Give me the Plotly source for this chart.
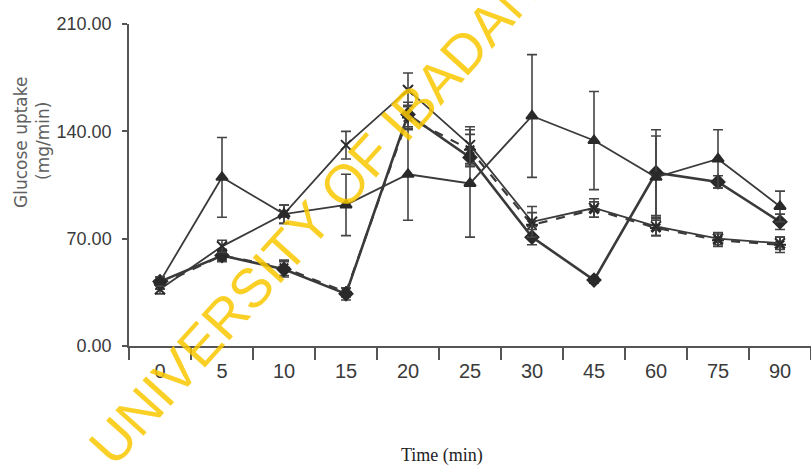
import plotly.graph_objects as go

times = ["0", "5", "10", "15", "20", "25", "30", "45", "60", "75", "90"]

tri_vals = [42, 110, 86, 92, 112, 106, 150, 134, 110, 122, 91]
tri_err = [3, 26, 6, 20, 30, 35, 40, 32, 27, 19, 10]

x_vals = [37, 65, 86, 131, 167, 131, 81, 90, 78, 70, 67]
x_err = [3, 4, 6, 9, 11, 12, 10, 6, 6, 4, 4]

dia_vals = [42, 59, 50, 34, 151, 123, 71, 43, 113, 107, 81]
dia_err = [3, 3, 5, 4, 8, 6, 5, 2, 28, 4, 5]

ast_vals = [40, 59, 51, 35, 149, 128, 79, 89, 77, 69, 66]
ast_err = [3, 4, 5, 3, 8, 10, 8, 5, 5, 4, 5]

series = [
    dict(y=ast_vals, e=ast_err, sym="asterisk-open", dash="dash", w=2.2, size=10),
    dict(y=dia_vals, e=dia_err, sym="diamond", dash="solid", w=2.6, size=10),
    dict(y=x_vals, e=x_err, sym="x-thin-open", dash="solid", w=1.8, size=10),
    dict(y=tri_vals, e=tri_err, sym="triangle-up", dash="solid", w=1.8, size=10),
]

# plot-area geometry in window pixels (used only to place free text)
PL, PR, PT, PB = 129, 811, 24, 346


def px(x):
    return (x - PL) / (PR - PL)


def py(y):
    return (PB - y) / (PB - PT)


fig = go.Figure()
for s in series:
    fig.add_trace(go.Scatter(
        x=times, y=s["y"], mode="lines+markers",
        line=dict(color="#3a3a3a", width=s["w"], dash=s["dash"]),
        marker=dict(symbol=s["sym"], size=s["size"], color="#2a2a2a",
                    line=dict(color="#2a2a2a", width=2)),
        error_y=dict(type="data", array=s["e"], visible=True,
                     color="#444444", thickness=1.6, width=5),
        showlegend=False,
    ))

fig.update_layout(
    width=811, height=465,
    margin=dict(l=PL, r=811 - PR, t=PT, b=465 - PB),
    paper_bgcolor="white", plot_bgcolor="white",
    xaxis=dict(
        type="category", range=[-0.5, 10.5],
        showline=True, linecolor="#555555", linewidth=1.5,
        ticks="outside", tickson="boundaries", ticklen=12, tickcolor="#555555", tickwidth=1.5,
        showgrid=False, zeroline=False, ticklabelstandoff=6,
        tickfont=dict(family="Liberation Sans Narrow, Arial Narrow, Liberation Sans, Arial", size=20, color="#3a3a3a"),
    ),
    yaxis=dict(
        range=[0, 210], tickvals=[0, 70, 140, 210], tickformat=".2f",
        showline=True, linecolor="#555555", linewidth=1.5,
        ticks="outside", ticklen=5, tickcolor="#555555", tickwidth=1.5,
        showgrid=False, zeroline=False, ticklabelstandoff=7,
        tickfont=dict(family="Liberation Sans, Arial", size=18, color="#3a3a3a"),
    ),
    annotations=[
        dict(text="Glucose uptake", textangle=-90, xref="paper", yref="paper",
             x=px(21), y=py(143), xanchor="center", yanchor="middle",
             showarrow=False, font=dict(family="DejaVu Sans", size=17, color="#606060")),
        dict(text="(mg/min)", textangle=-90, xref="paper", yref="paper",
             x=px(43), y=py(141), xanchor="center", yanchor="middle",
             showarrow=False, font=dict(family="DejaVu Sans", size=17, color="#606060")),
        dict(text="Time (min)", xref="paper", yref="paper",
             x=px(442), y=py(455), xanchor="center", yanchor="middle",
             showarrow=False, font=dict(family="Liberation Serif, Times New Roman", size=18, color="#222222")),
        dict(text="UNIVERSITY OF IBADAN", textangle=-48, xref="paper", yref="paper",
             x=px(314), y=py(218), xanchor="center", yanchor="middle",
             showarrow=False, font=dict(family="Liberation Sans, Arial", size=55, color="rgba(250,200,0,0.85)")),
    ],
)

fig.write_html("out.html", post_script="document.body.style.margin='0';",
               config={"displayModeBar": False})
